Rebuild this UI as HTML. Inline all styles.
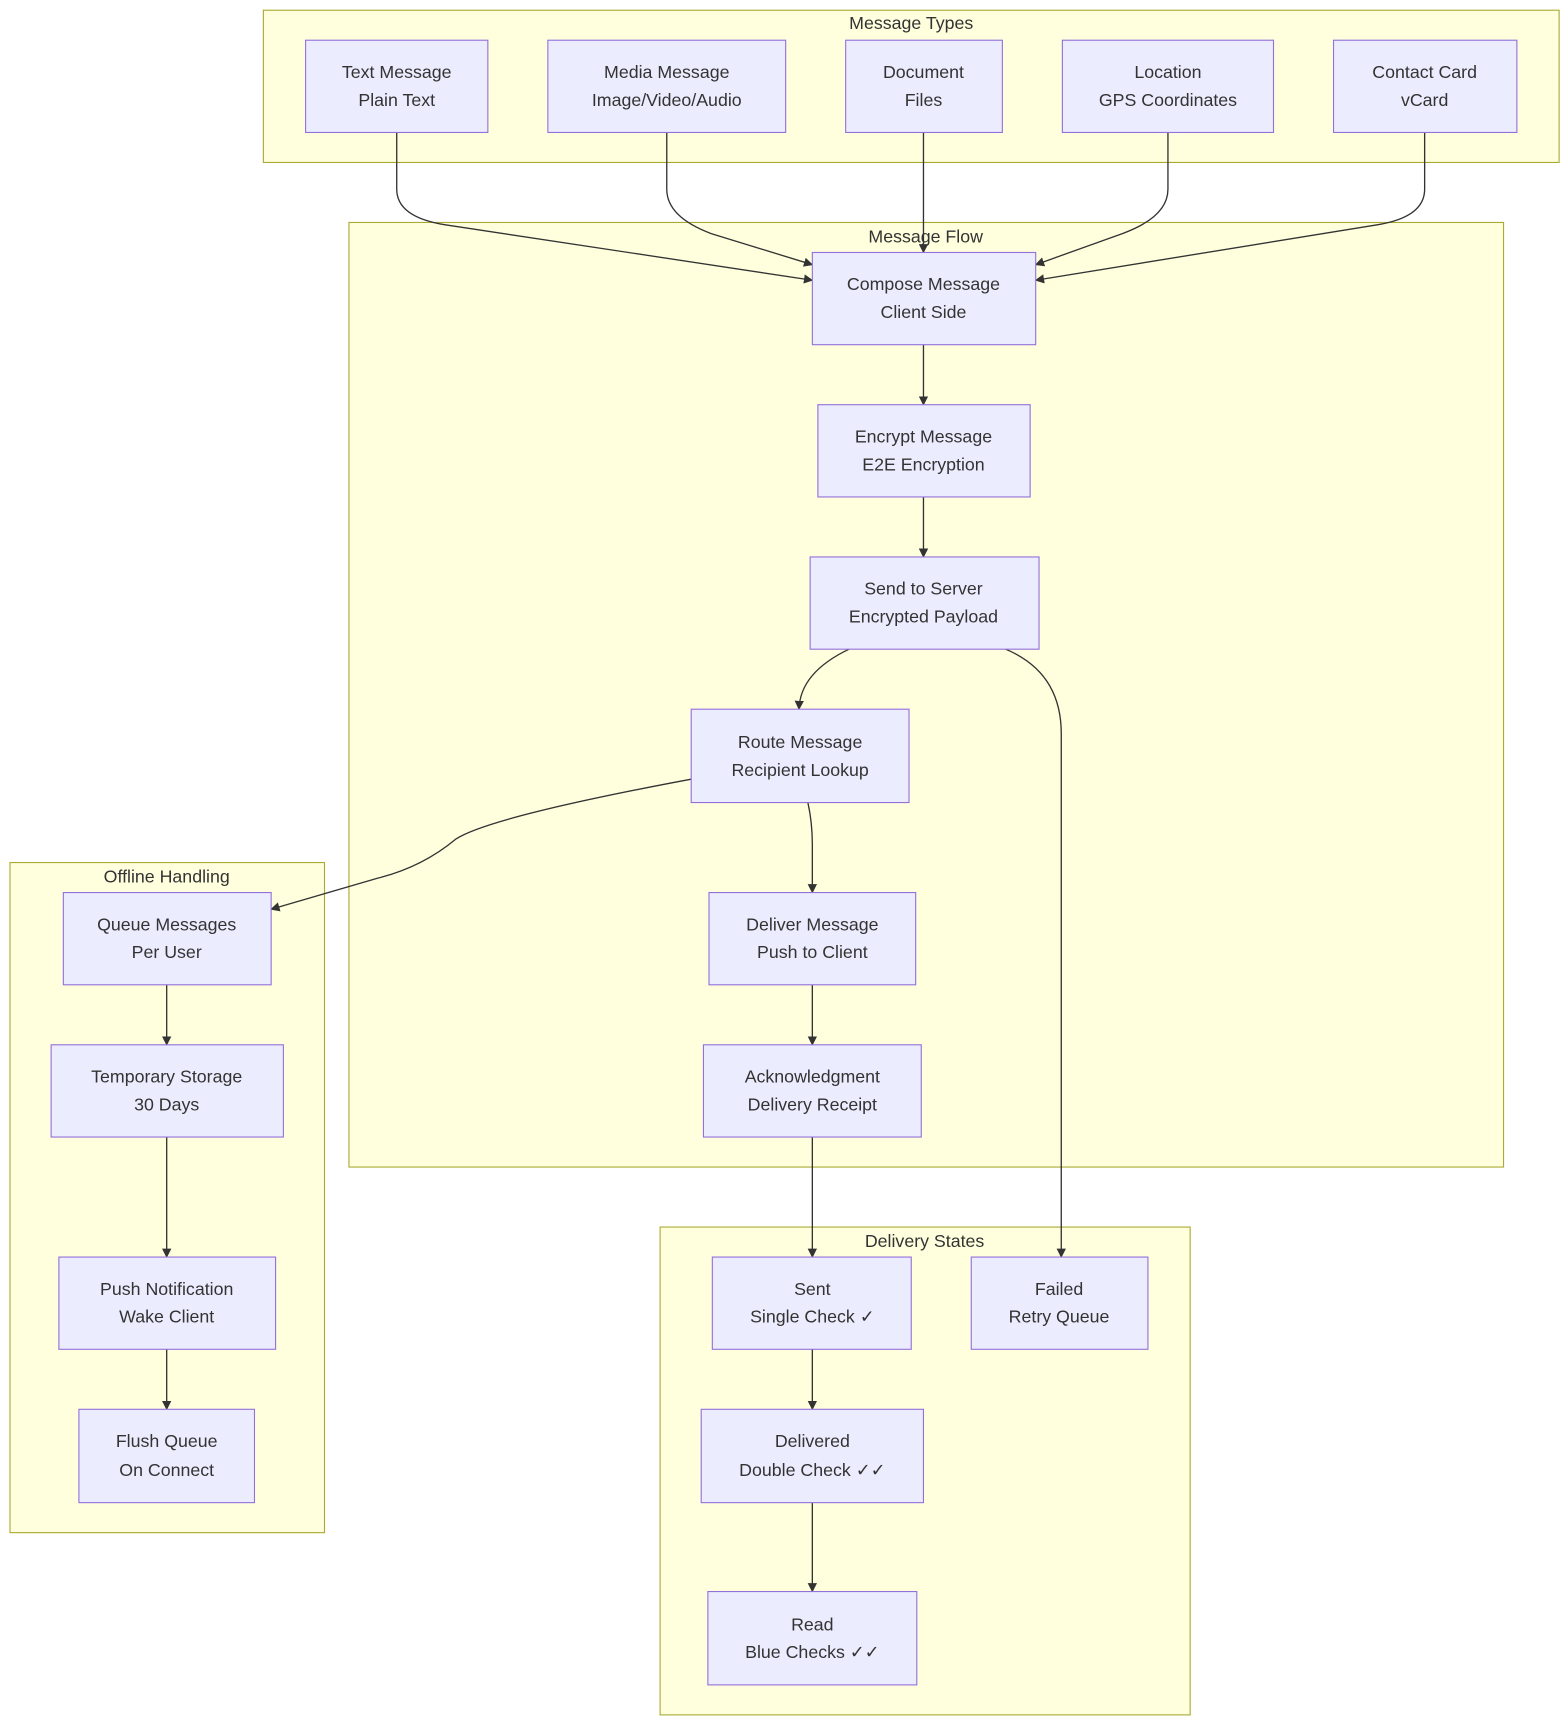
<!DOCTYPE html>
<html><head><meta charset="utf-8"><style>
html,body{margin:0;padding:0;background:#fff;}
svg{display:block}
text{font-family:"Liberation Sans","DejaVu Sans",sans-serif;font-size:16px;fill:#333;text-anchor:middle}
.c{fill:#ffffde;stroke:#aaaa33;stroke-width:1}
.n{fill:#ececff;stroke:#9370db;stroke-width:1}
.e{fill:none;stroke:#333;stroke-width:1.2}
</style></head><body>
<svg width="1568" height="1724" viewBox="0 0 1411 1551" xmlns="http://www.w3.org/2000/svg">
<defs><marker id="a" viewBox="0 0 10 10" refX="9" refY="5" markerWidth="7" markerHeight="7" orient="auto"><path d="M0,0L10,5L0,10z" fill="#333"/></marker></defs>
<rect class="c" x="237" y="9" width="1166" height="137"/>
<text x="820" y="26">Message Types</text>
<rect class="c" x="314" y="200" width="1039" height="850"/>
<text x="833" y="218">Message Flow</text>
<rect class="c" x="9" y="776" width="283" height="603"/>
<text x="150" y="794">Offline Handling</text>
<rect class="c" x="594" y="1104" width="477" height="439"/>
<text x="832" y="1122">Delivery States</text>

<g class="e" marker-end="url(#a)">
<path d="M357,119V170Q357,195 400,202L731,252"/>
<path d="M600,119V170Q600,195 640,210L731,238"/>
<path d="M831,119V227"/>
<path d="M1051,119V170Q1051,195 1010,210L932,238"/>
<path d="M1282,119V170Q1282,195 1240,202L932,252"/>
<path d="M831,310V364"/>
<path d="M831,447V501"/>
<path d="M764,584Q720,605 719,638"/>
<path d="M905,584Q955,605 955,660V1131"/>
<path d="M622,701Q440,735 410,755Q380,780 340,790L244,818"/>
<path d="M727,722Q731,740 731,760V803"/>
<path d="M731,886V940"/>
<path d="M731,1023V1131"/>
<path d="M150,886V940"/>
<path d="M150,1023V1131"/>
<path d="M150,1214V1268"/>
<path d="M731,1214V1268"/>
<path d="M731,1352V1432"/>
</g>

<g>
<rect class="n" x="275" y="36" width="164" height="83"/><text x="357" y="70">Text Message</text><text x="357" y="95">Plain Text</text>
<rect class="n" x="493" y="36" width="214" height="83"/><text x="600" y="70">Media Message</text><text x="600" y="95">Image/Video/Audio</text>
<rect class="n" x="761" y="36" width="141" height="83"/><text x="831" y="70">Document</text><text x="831" y="95">Files</text>
<rect class="n" x="956" y="36" width="190" height="83"/><text x="1051" y="70">Location</text><text x="1051" y="95">GPS Coordinates</text>
<rect class="n" x="1200" y="36" width="165" height="83"/><text x="1282" y="70">Contact Card</text><text x="1282" y="95">vCard</text>

<rect class="n" x="731" y="227" width="201" height="83"/><text x="831" y="261">Compose Message</text><text x="831" y="286">Client Side</text>
<rect class="n" x="736" y="364" width="191" height="83"/><text x="831" y="398">Encrypt Message</text><text x="831" y="423">E2E Encryption</text>
<rect class="n" x="729" y="501" width="206" height="83"/><text x="831" y="535">Send to Server</text><text x="831" y="560">Encrypted Payload</text>
<rect class="n" x="622" y="638" width="196" height="84"/><text x="720" y="673">Route Message</text><text x="720" y="698">Recipient Lookup</text>
<rect class="n" x="638" y="803" width="186" height="83"/><text x="731" y="837">Deliver Message</text><text x="731" y="862">Push to Client</text>
<rect class="n" x="633" y="940" width="196" height="83"/><text x="731" y="974">Acknowledgment</text><text x="731" y="999">Delivery Receipt</text>

<rect class="n" x="57" y="803" width="187" height="83"/><text x="150" y="837">Queue Messages</text><text x="150" y="862">Per User</text>
<rect class="n" x="46" y="940" width="209" height="83"/><text x="150" y="974">Temporary Storage</text><text x="150" y="999">30 Days</text>
<rect class="n" x="53" y="1131" width="195" height="83"/><text x="150" y="1165">Push Notification</text><text x="150" y="1190">Wake Client</text>
<rect class="n" x="71" y="1268" width="158" height="84"/><text x="150" y="1302">Flush Queue</text><text x="150" y="1328">On Connect</text>

<rect class="n" x="641" y="1131" width="179" height="83"/><text x="731" y="1165">Sent</text><text x="731" y="1190">Single Check ✓</text>
<rect class="n" x="874" y="1131" width="159" height="83"/><text x="953" y="1165">Failed</text><text x="953" y="1190">Retry Queue</text>
<rect class="n" x="631" y="1268" width="200" height="84"/><text x="731" y="1302">Delivered</text><text x="731" y="1328">Double Check ✓✓</text>
<rect class="n" x="637" y="1432" width="188" height="84"/><text x="731" y="1467">Read</text><text x="731" y="1492">Blue Checks ✓✓</text>
</g>
</svg>
</body></html>
